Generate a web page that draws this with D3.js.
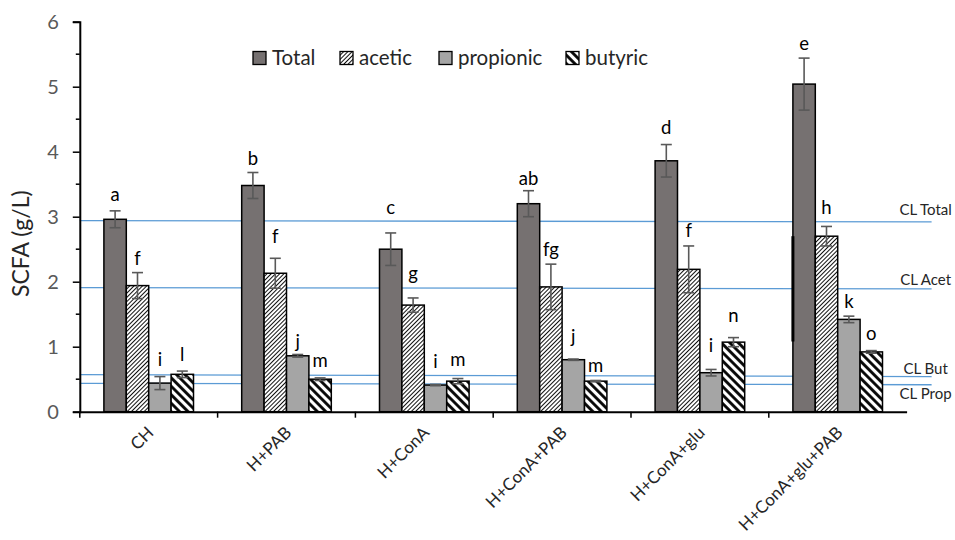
<!DOCTYPE html>
<html>
<head>
<meta charset="utf-8">
<script src="https://cdn.jsdelivr.net/npm/d3@7"></script>
<style>
  body { margin: 0; background: #fff; }
  svg { font-family: Lato, "Open Sans", sans-serif; }
</style>
</head>
<body>
<script>
// Categories and series
const categories = ['CH', 'H+PAB', 'H+ConA', 'H+ConA+PAB', 'H+ConA+glu', 'H+ConA+glu+PAB'];
const series = ['Total', 'acetic', 'propionic', 'butyric'];

// Means (g/L) and error (+/-)
const totalVals = [2.96, 3.48, 2.50, 3.20, 3.86, 5.04];
const totalErr = [0.13, 0.20, 0.25, 0.20, 0.25, 0.40];
const aceticVals = [1.94, 2.13, 1.64, 1.92, 2.19, 2.70];
const aceticErr = [0.20, 0.23, 0.11, 0.35, 0.36, 0.15];
const propionicVals = [0.44, 0.86, 0.41, 0.80, 0.60, 1.42];
const propionicErr = [0.10, 0.02, 0.01, 0.01, 0.05, 0.05];
const butyricVals = [0.575, 0.50, 0.47, 0.47, 1.07, 0.92];
const butyricErr = [0.05, 0.02, 0.04, 0.01, 0.07, 0.02];

// Significance letters and the value their baseline sits at
const totalLetters = ['a', 'b', 'c', 'ab', 'd', 'e'];
const totalLetterAt = [3.24, 3.80, 3.04, 3.49, 4.28, 5.56];
const aceticLetters = ['f', 'f', 'g', 'fg', 'f', 'h'];
const aceticLetterAt = [2.26, 2.59, 2.03, 2.40, 2.69, 3.04];
const propionicLetters = ['i', 'j', 'i', 'j', 'i', 'k'];
const propionicLetterAt = [0.70, 0.98, 0.67, 1.06, 0.92, 1.59];
const butyricLetters = ['l', 'm', 'm', 'm', 'n', 'o'];
const butyricLetterAt = [0.785, 0.69, 0.70, 0.61, 1.38, 1.10];

// Control-level reference lines (value at left end, value at right end, label value)
const clNames = ['CL Total', 'CL Acet', 'CL But', 'CL Prop'];
const clStart = [2.94, 1.91, 0.57, 0.436];
const clEnd = [2.92, 1.89, 0.54, 0.415];
const clLabelAt = [3.10, 2.03, 0.655, 0.27];

const yTicks = [0, 1, 2, 3, 4, 5, 6];

const valsBySeries = [totalVals, aceticVals, propionicVals, butyricVals];
const errBySeries = [totalErr, aceticErr, propionicErr, butyricErr];
const lettersBySeries = [totalLetters, aceticLetters, propionicLetters, butyricLetters];
const letterAtBySeries = [totalLetterAt, aceticLetterAt, propionicLetterAt, butyricLetterAt];

const data = [];
categories.forEach((c, i) => {
    series.forEach((s, j) => {
        data.push({
            cat: c, ser: s,
            value: valsBySeries[j][i],
            err: errBySeries[j][i],
            letter: lettersBySeries[j][i],
            letterAt: letterAtBySeries[j][i]
        });
    });
});

const W = 955, H = 540;
const plotLeft = 79.8, plotRight = 906.6, plotTop = 21.7, plotBottom = 411.7;

const svg = d3.select('body').append('svg')
    .attr('width', W)
    .attr('height', H);

// Patterns for the hatched series
const defs = svg.append('defs');
const pA = defs.append('pattern')
    .attr('id', 'hatch-acetic')
    .attr('patternUnits', 'userSpaceOnUse')
    .attr('width', 3).attr('height', 3)
    .attr('patternTransform', 'rotate(45)');
pA.append('rect').attr('width', 3).attr('height', 3).attr('fill', '#fff');
pA.append('line').attr('x1', 0.5).attr('y1', 0).attr('x2', 0.5).attr('y2', 3)
    .attr('stroke', '#111').attr('stroke-width', 1);

const pB = defs.append('pattern')
    .attr('id', 'hatch-butyric')
    .attr('patternUnits', 'userSpaceOnUse')
    .attr('width', 6).attr('height', 6)
    .attr('patternTransform', 'rotate(-45)');
pB.append('rect').attr('width', 6).attr('height', 6).attr('fill', '#fff');
pB.append('line').attr('x1', 1.5).attr('y1', 0).attr('x2', 1.5).attr('y2', 6)
    .attr('stroke', '#000').attr('stroke-width', 2.8);

const fills = {
    Total: '#767171',
    acetic: 'url(#hatch-acetic)',
    propionic: '#A5A5A5',
    butyric: 'url(#hatch-butyric)'
};

// Scales
const x0 = d3.scaleBand()
    .domain(categories)
    .range([plotLeft, plotRight])
    .padding(0);

const x1 = d3.scaleBand()
    .domain(series)
    .range([24.1, x0.bandwidth() - 24.1])
    .padding(0);

const y = d3.scaleLinear()
    .domain([0, 6])
    .range([plotBottom, plotTop]);

// Reference lines (drawn under the bars)
const clG = svg.append('g');
clNames.forEach((n, i) => {
    clG.append('line')
        .attr('x1', plotLeft).attr('x2', plotRight + 25)
        .attr('y1', y(clStart[i])).attr('y2', y(clEnd[i]))
        .attr('stroke', '#5B9BD5').attr('stroke-width', 1.3);
    clG.append('text')
        .attr('x', plotRight + 19)
        .attr('y', y(clLabelAt[i]))
        .attr('dy', '0.35em')
        .attr('text-anchor', 'middle')
        .attr('font-size', 15)
        .attr('fill', '#262626')
        .text(n);
});

// Bars
const group = svg.selectAll('.group')
    .data(categories)
    .enter().append('g')
    .attr('class', 'group')
    .attr('transform', d => `translate(${x0(d)},0)`);

group.selectAll('rect')
    .data(c => data.filter(d => d.cat === c))
    .enter().append('rect')
    .attr('x', d => x1(d.ser))
    .attr('y', d => y(d.value))
    .attr('width', x1.bandwidth())
    .attr('height', d => y(0) - y(d.value))
    .attr('fill', d => fills[d.ser])
    .attr('stroke', '#000')
    .attr('stroke-width', 1.5);

// Error bars
const eb = group.selectAll('.err')
    .data(c => data.filter(d => d.cat === c))
    .enter().append('g')
    .attr('class', 'err')
    .attr('stroke', '#595959')
    .attr('stroke-width', 1.6);
const cx = d => x1(d.ser) + x1.bandwidth() / 2;
eb.append('line')
    .attr('x1', cx).attr('x2', cx)
    .attr('y1', d => y(d.value + d.err)).attr('y2', d => y(d.value - d.err));
eb.append('line')
    .attr('x1', d => cx(d) - 5.5).attr('x2', d => cx(d) + 5.5)
    .attr('y1', d => y(d.value + d.err)).attr('y2', d => y(d.value + d.err));
eb.append('line')
    .attr('x1', d => cx(d) - 5.5).attr('x2', d => cx(d) + 5.5)
    .attr('y1', d => y(d.value - d.err)).attr('y2', d => y(d.value - d.err));

// Letters
group.selectAll('.letter')
    .data(c => data.filter(d => d.cat === c))
    .enter().append('text')
    .attr('class', 'letter')
    .attr('x', cx)
    .attr('y', d => y(d.letterAt))
    .attr('text-anchor', 'middle')
    .attr('font-size', 18.5)
    .attr('fill', '#000')
    .text(d => d.letter);

// Thick stroke on the left edge of the last Total bar (as in the figure)
const lastCat = categories[categories.length - 1];
svg.append('line')
    .attr('x1', x0(lastCat) + x1('Total'))
    .attr('x2', x0(lastCat) + x1('Total'))
    .attr('y1', y(aceticVals[5]))
    .attr('y2', y(1.08))
    .attr('stroke', '#000')
    .attr('stroke-width', 3);

// Y axis
const yAxis = svg.append('g')
    .attr('transform', `translate(${plotLeft},0)`)
    .call(d3.axisLeft(y).tickValues(yTicks).tickSize(7).tickPadding(14).tickFormat(d3.format('d')));
yAxis.select('.domain').attr('stroke', '#000').attr('stroke-width', 2);
yAxis.selectAll('.tick line').attr('stroke', '#000').attr('stroke-width', 1.5);
yAxis.selectAll('.tick text').attr('font-size', 20).attr('fill', '#595959')
    .attr('font-family', 'Lato, sans-serif');

// Minor y ticks
svg.append('g')
    .selectAll('line')
    .data(d3.range(0.5, 6, 1))
    .enter().append('line')
    .attr('x1', plotLeft - 4).attr('x2', plotLeft)
    .attr('y1', d => y(d)).attr('y2', d => y(d))
    .attr('stroke', '#000').attr('stroke-width', 1.5);

// X axis
const xAxis = svg.append('g')
    .attr('transform', `translate(0,${plotBottom})`)
    .call(d3.axisBottom(x0).tickSize(0).tickFormat(''));
xAxis.select('.domain').attr('stroke', '#000').attr('stroke-width', 2);

svg.append('g')
    .selectAll('line')
    .data(categories)
    .enter().append('line')
    .attr('x1', d => x0(d)).attr('x2', d => x0(d))
    .attr('y1', plotBottom).attr('y2', plotBottom + 6)
    .attr('stroke', '#000').attr('stroke-width', 1.5);

svg.append('g')
    .selectAll('text')
    .data(categories)
    .enter().append('text')
    .attr('transform', d => `translate(${x0(d) + x0.bandwidth() / 2 + 6},${plotBottom + 22}) rotate(-45)`)
    .attr('text-anchor', 'end')
    .attr('font-size', 17)
    .attr('fill', '#262626')
    .text(d => d);

// Y title
svg.append('text')
    .attr('transform', `translate(29,${(plotTop + plotBottom) / 2 + 27}) rotate(-90)`)
    .attr('text-anchor', 'middle')
    .attr('font-size', 23)
    .attr('fill', '#262626')
    .text('SCFA (g/L)');

// Legend
const legendX = [253, 340, 439, 566];
const legend = svg.append('g');
series.forEach((s, i) => {
    legend.append('rect')
        .attr('x', legendX[i]).attr('y', 51.5)
        .attr('width', 13).attr('height', 13)
        .attr('fill', fills[s])
        .attr('stroke', '#000').attr('stroke-width', 1.3);
    legend.append('text')
        .attr('x', legendX[i] + 19).attr('y', 58)
        .attr('dy', '0.35em')
        .attr('font-size', 20.5)
        .attr('fill', '#262626')
        .text(s);
});
</script>
</body>
</html>
